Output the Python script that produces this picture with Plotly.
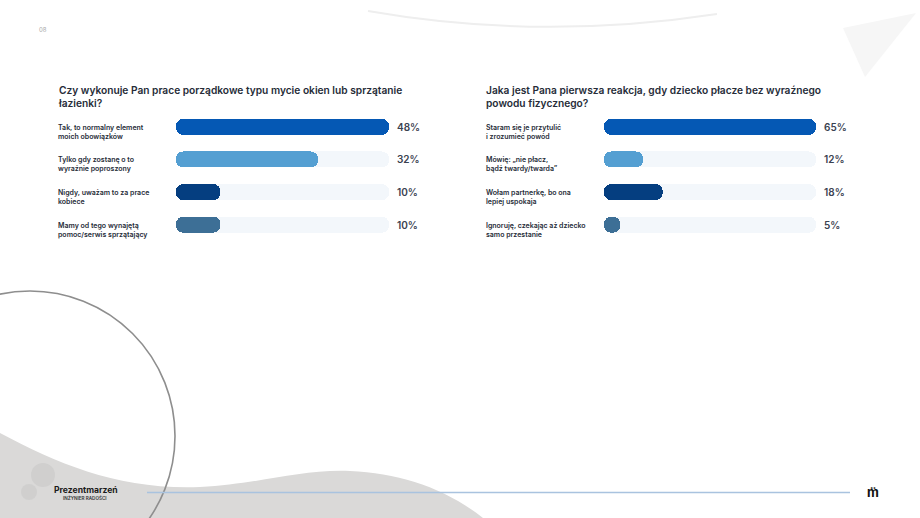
import plotly.graph_objects as go

# ---------------- data ----------------
left_title = "Czy wykonuje Pan prace porządkowe typu mycie okien lub sprzątanie<br>łazienki?"
left_categories = [
    "Tak, to normalny element<br>moich obowiązków",
    "Tylko gdy zostanę o to<br>wyraźnie poproszony",
    "Nigdy, uważam to za prace<br>kobiece",
    "Mamy od tego wynajętą<br>pomoc/serwis sprzątający",
]
left_values = [48, 32, 10, 10]

right_title = "Jaka jest Pana pierwsza reakcja, gdy dziecko płacze bez wyraźnego<br>powodu fizycznego?"
right_categories = [
    "Staram się je przytulić<br>i zrozumieć powód",
    "Mówię: „nie płacz,<br>bądź twardy/twarda”",
    "Wołam partnerkę, bo ona<br>lepiej uspokaja",
    "Ignoruję, czekając aż dziecko<br>samo przestanie",
]
right_values = [65, 12, 18, 5]

bar_colors = ["#0558b4", "#549fd2", "#053e80", "#3d6f96"]
track_color = "#f3f7fb"
text_dark = "#262c38"
W, H = 920, 518
FONT = "Inter, 'Noto Sans', sans-serif"

fig = go.Figure()
ax_common = dict(visible=False, fixedrange=True, showgrid=False, zeroline=False)
ydom = [1 - 241 / H, 1 - 110.5 / H]
layout_axes = {}


def ax_names(n):
    return ("x" if n == 1 else f"x{n}", "y" if n == 1 else f"y{n}",
            "xaxis" if n == 1 else f"xaxis{n}", "yaxis" if n == 1 else f"yaxis{n}")


def pills(vals, colors, n, xdom, mx):
    """Rounded pill bars (explicit base -> both ends rounded), own subplot each."""
    xs, ys, kx, ky = ax_names(n)
    fig.add_trace(go.Bar(
        y=list(range(len(vals))), x=vals, base=[0] * len(vals), orientation="h",
        marker=dict(color=colors, cornerradius="50%", line=dict(width=0)),
        width=0.49, xaxis=xs, yaxis=ys, hoverinfo="skip", showlegend=False))
    layout_axes[kx] = dict(domain=xdom, range=[0, mx], anchor=ys, **ax_common)
    layout_axes[ky] = dict(domain=ydom, range=[3.5, -0.5], anchor=xs, **ax_common)


left_dom = [176 / W, 389 / W]
right_dom = [604 / W, 816 / W]
lmax, rmax = max(left_values), max(right_values)

pills([lmax] * len(left_values), track_color, 1, left_dom, lmax)
pills(left_values, bar_colors, 2, left_dom, lmax)
pills([rmax] * len(right_values), track_color, 3, right_dom, rmax)
pills(right_values, bar_colors, 4, right_dom, rmax)

# pixel canvas for page decorations
dx, dy, kx, ky = ax_names(5)
fig.add_trace(go.Scatter(x=[None], y=[None], xaxis=dx, yaxis=dy,
                         hoverinfo="skip", showlegend=False))
layout_axes[kx] = dict(domain=[0, 1], range=[0, W], anchor=dy, **ax_common)
layout_axes[ky] = dict(domain=[0, 1], range=[H, 0], anchor=dx, **ax_common)

fig.update_layout(
    width=W, height=H,
    margin=dict(l=0, r=0, t=0, b=0),
    paper_bgcolor="white", plot_bgcolor="rgba(0,0,0,0)",
    barmode="overlay", bargap=0,
    font=dict(family=FONT, color=text_dark),
    **layout_axes,
)

ann = []


def add_texts(title, cats, vals, xa, ya, x_left):
    mx = max(vals)
    ann.append(dict(text=title, xref="paper", yref="paper", x=x_left / W, y=1 - 82 / H,
                    xanchor="left", yanchor="top", align="left", showarrow=False,
                    font=dict(family=FONT, size=10.2, color=text_dark, weight=600)))
    for i, (c, v) in enumerate(zip(cats, vals)):
        ann.append(dict(text=c, xref="paper", yref=ya, x=x_left / W, y=i, yshift=-5,
                        xanchor="left", yanchor="middle", align="left", showarrow=False,
                        font=dict(family=FONT, size=7, color=text_dark, weight=600)))
        ann.append(dict(text=f"{v}%", xref=xa, yref=ya, x=mx, y=i, xshift=6,
                        xanchor="left", yanchor="middle", showarrow=False,
                        font=dict(family=FONT, size=10, color="#3a4150", weight=600)))


add_texts(left_title, left_categories, left_values, "x2", "y2", 55.5)
add_texts(right_title, right_categories, right_values, "x4", "y4", 483.5)

ann.append(dict(text="08", xref=dx, yref=dy, x=37, y=29, xanchor="left", yanchor="middle",
                showarrow=False, font=dict(family=FONT, size=6, color="#a8a8a8")))
ann.append(dict(text="Prezentmarzeń", xref=dx, yref=dy, x=85.5, y=490, xanchor="center",
                yanchor="middle", showarrow=False,
                font=dict(family=FONT, size=8.6, color="#1a1a1a", weight=700)))
ann.append(dict(text="INŻYNIER RADOŚCI", xref=dx, yref=dy, x=85, y=498, xanchor="center",
                yanchor="middle", showarrow=False,
                font=dict(family=FONT, size=4.6, color="#333333", weight=600)))
ann.append(dict(text="m̈", xref=dx, yref=dy, x=873, y=492, xanchor="center",
                yanchor="middle", showarrow=False,
                font=dict(family=FONT, size=13, color="#111111", weight=700)))
fig.update_layout(annotations=ann)

shapes = [
    dict(type="path", xref=dx, yref=dy, layer="below",
         path="M 0 433 C 60 465, 120 490, 200 487 C 260 484, 300 469, 350 471 C 400 473, 445 488, 483 518 L 0 518 Z",
         fillcolor="#dad9d8", line=dict(width=0)),
    dict(type="circle", xref=dx, yref=dy, layer="below", x0=31, y0=463, x1=55, y1=487,
         fillcolor="rgba(190,190,190,0.35)", line=dict(width=0)),
    dict(type="circle", xref=dx, yref=dy, layer="below", x0=21, y0=484, x1=37, y1=500,
         fillcolor="rgba(190,190,190,0.35)", line=dict(width=0)),
    dict(type="circle", xref=dx, yref=dy, layer="below", x0=-115, y0=291, x1=175, y1=581,
         line=dict(color="#8e8e8e", width=1.6)),
    dict(type="line", xref=dx, yref=dy, layer="below", x0=147, y0=492.5, x1=850, y1=492.5,
         line=dict(color="#a9c3df", width=1.3)),
    dict(type="path", xref=dx, yref=dy, layer="below",
         path="M 368 11 Q 540 41 717 14", line=dict(color="#eeeeee", width=2)),
    dict(type="path", xref=dx, yref=dy, layer="below",
         path="M 843 28 L 916 13 L 865 77 Z", fillcolor="#f6f6f6", line=dict(width=0)),
]
fig.update_layout(shapes=shapes)

fig.write_html(
    "out.html",
    config={"displayModeBar": False, "staticPlot": True},
    post_script="document.body.style.margin='0';document.body.style.overflow='hidden';",
)
